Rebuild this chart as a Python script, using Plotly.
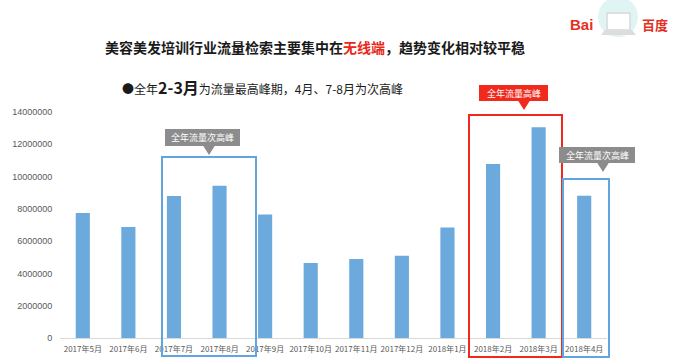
import plotly.graph_objects as go

categories = ["2017年5月", "2017年6月", "2017年7月", "2017年8月", "2017年9月", "2017年10月",
              "2017年11月", "2017年12月", "2018年1月", "2018年2月", "2018年3月", "2018年4月"]
values = [7750000, 6880000, 8790000, 9430000, 7650000, 4650000,
          4900000, 5100000, 6840000, 10780000, 13060000, 8810000]
tick_vals = [0, 2000000, 4000000, 6000000, 8000000, 10000000, 12000000, 14000000]
tick_text = [str(v) for v in tick_vals]

W, H = 682, 364
ML, MR, MT, MB = 60, 75, 112, 26
PW, PH = W - ML - MR, H - MT - MB
FONT = "Noto Sans CJK SC"


def px(x):
    return (x - ML) / PW


def py(y):
    return (H - MB - y) / PH


fig = go.Figure()
fig.add_trace(go.Bar(x=categories, y=values, marker=dict(color="#6CA9DC", line=dict(width=0)),
                     width=0.31, hoverinfo="skip"))

shapes = []
annotations = []


def box(x0, y0, x1, y1, color):
    shapes.append(dict(type="rect", xref="paper", yref="paper", x0=px(x0), x1=px(x1),
                       y0=py(y1), y1=py(y0), line=dict(color=color, width=2),
                       fillcolor="rgba(0,0,0,0)", layer="above"))


def callout(x0, y0, x1, y1, tipx, tipy, color, text):
    shapes.append(dict(type="rect", xref="paper", yref="paper", x0=px(x0), x1=px(x1),
                       y0=py(y1), y1=py(y0), line=dict(width=0), fillcolor=color, layer="above"))
    path = "M {} {} L {} {} L {} {} Z".format(px(tipx - 6), py(y1 - 0.5), px(tipx + 6), py(y1 - 0.5),
                                              px(tipx), py(tipy))
    shapes.append(dict(type="path", xref="paper", yref="paper", path=path,
                       line=dict(width=0), fillcolor=color, layer="above"))
    annotations.append(dict(xref="paper", yref="paper", x=px((x0 + x1) / 2), y=py((y0 + y1) / 2),
                            text=text, showarrow=False, xanchor="center", yanchor="middle",
                            font=dict(family=FONT, size=9, color="white")))


# highlight boxes
box(162, 157, 256, 356, "#62A5DE")
box(469, 115, 562, 357, "#F0281E")
box(563, 179, 609, 357, "#62A5DE")

callout(165, 129, 240, 146, 209, 155, "#8C8C8C", "全年流量次高峰")
callout(479, 85, 548, 101, 524, 110, "#F02B1E", "全年流量高峰")
callout(559, 147, 635, 163, 603, 172, "#8C8C8C", "全年流量次高峰")

# title and subtitle
annotations.append(dict(xref="paper", yref="paper", x=px(315), y=py(47), showarrow=False,
                        xanchor="center", yanchor="middle",
                        text="<b>美容美发培训行业流量检索主要集中在<span style='color:#E8291C'>无线端</span>，趋势变化相对较平稳</b>",
                        font=dict(family=FONT, size=14, color="#1a1a1a")))
annotations.append(dict(xref="paper", yref="paper", x=px(120), y=py(87), showarrow=False,
                        xanchor="left", yanchor="middle",
                        text="●全年<span style='font-size:16px'><b>2-3月</b></span>为流量最高峰期，4月、7-8月为次高峰",
                        font=dict(family=FONT, size=12, color="#1a1a1a")))

# Baidu logo
shapes.append(dict(type="circle", xref="paper", yref="paper", x0=px(598), x1=px(638), y0=py(37), y1=py(-3),
                   line=dict(width=0), fillcolor="rgba(200,235,235,0.55)", layer="above"))
shapes.append(dict(type="rect", xref="paper", yref="paper", x0=px(607), x1=px(630), y0=py(30), y1=py(13),
                   line=dict(color="#D8D8D8", width=1.5), fillcolor="white", layer="above"))
shapes.append(dict(type="path", xref="paper", yref="paper",
                   path="M {} {} L {} {} L {} {} L {} {} Z".format(px(605), py(30), px(632), py(30),
                                                                  px(636), py(35), px(601), py(35)),
                   line=dict(width=0), fillcolor="#DDDDDD", layer="above"))
annotations.append(dict(xref="paper", yref="paper", x=px(581), y=py(25), showarrow=False,
                        xanchor="center", yanchor="middle", text="<b>Bai</b>",
                        font=dict(family="Liberation Sans", size=15, color="#E62E22")))
annotations.append(dict(xref="paper", yref="paper", x=px(655), y=py(25), showarrow=False,
                        xanchor="center", yanchor="middle", text="<b>百度</b>",
                        font=dict(family=FONT, size=13, color="#E62E22")))

fig.update_layout(
    width=W, height=H,
    margin=dict(l=ML, r=MR, t=MT, b=MB, autoexpand=False),
    paper_bgcolor="white", plot_bgcolor="white",
    showlegend=False,
    shapes=shapes, annotations=annotations,
    bargap=0.68,
    xaxis=dict(type="category", showgrid=False, showline=True, linecolor="#D9D9D9", linewidth=1,
               ticks="outside", ticklen=3, tickcolor="rgba(0,0,0,0)",
               tickfont=dict(family=FONT, size=8, color="#595959"), automargin=False),
    yaxis=dict(range=[0, 14000000], tickvals=tick_vals, ticktext=tick_text, showgrid=False,
               zeroline=False, showline=False, ticks="outside", ticklen=5, tickcolor="rgba(0,0,0,0)",
               tickfont=dict(family="Liberation Sans", size=9, color="#595959"), automargin=False),
)

fig.write_html("out.html", config={"displayModeBar": False},
               post_script="document.body.style.margin='0';document.body.style.overflow='hidden';")
